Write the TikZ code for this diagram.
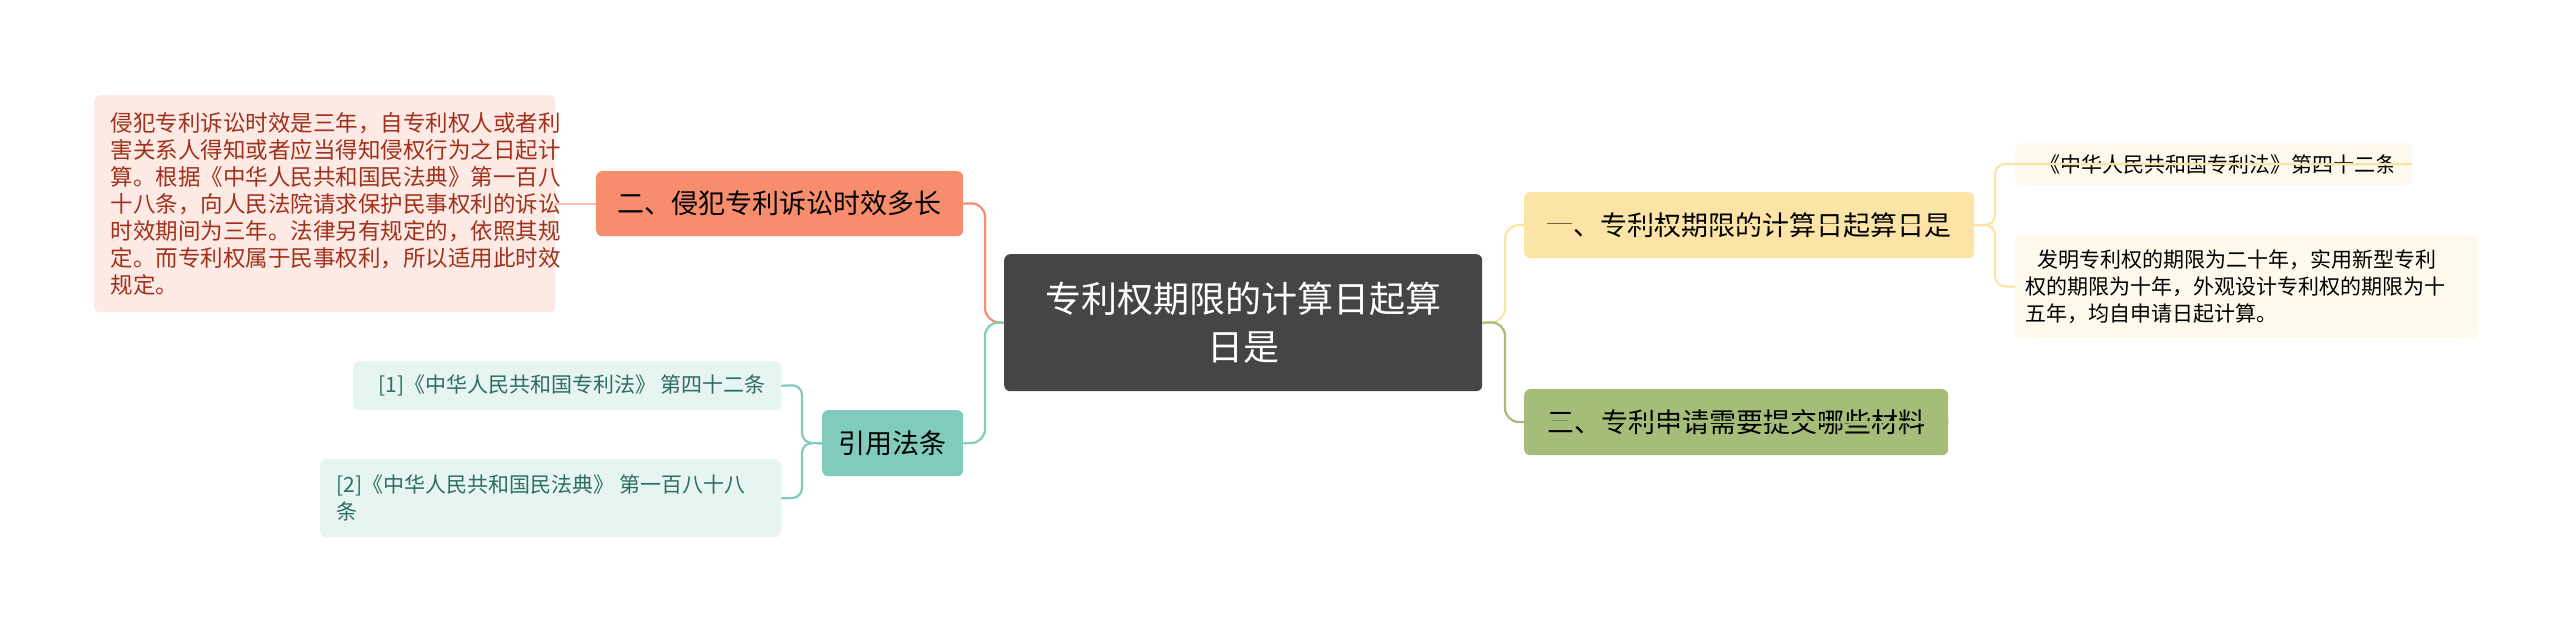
\documentclass[tikz,border=0pt]{standalone}
\usepackage{fontspec}
\setmainfont{Noto Sans CJK SC}
\usetikzlibrary{positioning}
\definecolor{rootc}{HTML}{454545}
\definecolor{orgc}{HTML}{F78D6C}
\definecolor{pinkc}{HTML}{FDEAE5}
\definecolor{pinkt}{HTML}{A1311C}
\definecolor{tealc}{HTML}{80CBBB}
\definecolor{teall}{HTML}{E6F5F1}
\definecolor{tealt}{HTML}{2E6E5E}
\definecolor{yelc}{HTML}{FCE3A6}
\definecolor{yell}{HTML}{FEF9EC}
\definecolor{grnc}{HTML}{A5BD79}
\tikzset{
 box/.style={rounded corners=6pt, inner sep=0pt, anchor=north west},
 conn/.style={line width=2.2pt, rounded corners=14pt},
}
\begin{document}
\begin{tikzpicture}[x=1pt,y=-1pt]
\useasboundingbox[fill=white] (0,0) rectangle (2560,628);
% root
\node[box, fill=rootc, minimum width=478pt, minimum height=137pt, text=white, font=\fontsize{36}{48}\selectfont, align=center] (root) at (1004,254) {专利权期限的计算日起算\\日是};
% left main
\node[box, fill=orgc, minimum width=367pt, minimum height=65pt, font=\fontsize{27}{32}\selectfont] (n2) at (596,171) {二、侵犯专利诉讼时效多长};
\node[box, fill=tealc, minimum width=141pt, minimum height=66pt, font=\fontsize{27}{32}\selectfont] (cite) at (822,410) {引用法条};
% right main
\node[box, fill=yelc, minimum width=450pt, minimum height=66pt, font=\fontsize{27}{32}\selectfont] (n1) at (1524,192) {一、专利权期限的计算日起算日是};
\node[box, fill=grnc, minimum width=424pt, minimum height=66pt, font=\fontsize{27}{32}\selectfont] (n3) at (1524,389) {三、专利申请需要提交哪些材料};
% leaves
\node[box, fill=pinkc, minimum width=461pt, minimum height=217pt, text=pinkt, font=\fontsize{22.5}{27}\selectfont, align=left] (l2) at (94,95) {\hspace*{12pt}\parbox{440pt}{侵犯专利诉讼时效是三年，自专利权人或者利\\害关系人得知或者应当得知侵权行为之日起计\\算。根据《中华人民共和国民法典》第一百八\\十八条，向人民法院请求保护民事权利的诉讼\\时效期间为三年。法律另有规定的，依照其规\\定。而专利权属于民事权利，所以适用此时效\\规定。}};
\node[box, fill=teall, minimum width=428pt, minimum height=49pt, text=tealt, font=\fontsize{21}{27}\selectfont, align=left] (c1) at (353,361) {\hspace*{10pt}[1]《中华人民共和国专利法》 第四十二条};
\node[box, fill=teall, minimum width=461pt, minimum height=78pt, text=tealt, font=\fontsize{21}{27}\selectfont, align=left] (c2) at (320,459) {\hspace*{12pt}\parbox{440pt}{[2]《中华人民共和国民法典》 第一百八十八\\条}};
\node[box, fill=yell, minimum width=397pt, minimum height=42pt, font=\fontsize{21}{27}\selectfont, align=left] (y1) at (2015,143) {\hspace*{8pt}《中华人民共和国专利法》第四十二条};
\node[box, fill=yell, minimum width=463pt, minimum height=103pt, font=\fontsize{21}{27}\selectfont, align=left] (y2) at (2015,235) {\hspace*{8pt}\parbox{450pt}{\hspace*{12pt}发明专利权的期限为二十年，实用新型专利\\权的期限为十年，外观设计专利权的期限为十\\五年，均自申请日起计算。}};
% connectors
\draw[conn, orgc] (root.west) -- (985,322) -- (985,203) -- (n2.east);
\draw[conn, tealc] (root.west) -- (985,322) -- (985,443) -- (cite.east);
\draw[conn, yelc] (root.east) -- (1505,322) -- (1505,225) -- (n1.east);
\draw[conn, grnc] (root.east) -- (1505,322) -- (1505,422) -- (n3.east);
\draw[conn, orgc!60] (n2.west) -- (l2.east |- n2.west);
\draw[conn, tealc, rounded corners=10pt] (cite.west) -- (802,443) -- (802,385) -- (c1.east);
\draw[conn, tealc, rounded corners=10pt] (cite.west) -- (802,443) -- (802,498) -- (c2.east);
\draw[conn, yelc, rounded corners=10pt] (n1.east) -- (1995,225) -- (1995,164) -- (y1.east);
\draw[conn, yelc, rounded corners=10pt] (n1.east) -- (1995,225) -- (1995,286) -- (y2.west);
\end{tikzpicture}
\end{document}
